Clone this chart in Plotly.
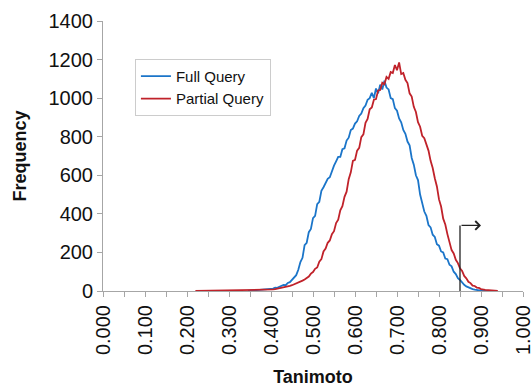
import plotly.graph_objects as go

# Tanimoto bins and frequencies
tanimoto_full = [0.345, 0.350, 0.360, 0.370, 0.380, 0.390, 0.400, 0.405, 0.410, 0.415, 0.420, 0.425,
                 0.430, 0.435, 0.440, 0.445, 0.450, 0.455, 0.460, 0.465, 0.470, 0.475, 0.480, 0.485,
                 0.490, 0.495, 0.500, 0.505, 0.510, 0.515, 0.520, 0.525, 0.530, 0.535, 0.540, 0.545,
                 0.550, 0.555, 0.560, 0.565, 0.570, 0.575, 0.580, 0.585, 0.590, 0.595, 0.600, 0.605,
                 0.610, 0.615, 0.620, 0.625, 0.630, 0.635, 0.640, 0.645, 0.650, 0.655, 0.660, 0.665,
                 0.670, 0.675, 0.680, 0.685, 0.690, 0.695, 0.700, 0.705, 0.710, 0.715, 0.720, 0.725,
                 0.730, 0.735, 0.740, 0.745, 0.750, 0.755, 0.760, 0.765, 0.770, 0.775, 0.780, 0.785,
                 0.790, 0.795, 0.800, 0.805, 0.810, 0.815, 0.820, 0.825, 0.830, 0.835, 0.840, 0.845,
                 0.850, 0.855, 0.860, 0.865, 0.870, 0.875, 0.880, 0.885, 0.890, 0.900, 0.910, 0.920]
freq_full = [1, 2, 3, 4, 6, 9, 13, 12, 17, 16, 22, 26,
             32, 30, 42, 46, 57, 66, 82, 110, 150, 172, 238, 250,
             305, 322, 378, 390, 450, 462, 520, 538, 565, 582, 590, 625,
             650, 672, 695, 695, 735, 740, 780, 795, 835, 842, 868, 880,
             908, 920, 948, 962, 992, 1000, 1028, 1000, 1050, 1025, 1070, 1045,
             1090, 1055, 1045, 1000, 995, 948, 935, 895, 875, 835, 815, 775,
             755, 690, 655, 600, 575, 500, 455, 412, 390, 342, 330, 292,
             280, 243, 235, 205, 200, 168, 165, 136, 128, 100, 88, 66,
             57, 42, 32, 24, 18, 13, 10, 7, 5, 2, 1, 0]

tanimoto_partial = [0.220, 0.250, 0.300, 0.350, 0.380, 0.400, 0.405, 0.410, 0.415, 0.420, 0.425, 0.430,
                    0.435, 0.440, 0.445, 0.450, 0.455, 0.460, 0.465, 0.470, 0.475, 0.480, 0.485, 0.490,
                    0.495, 0.500, 0.505, 0.510, 0.515, 0.520, 0.525, 0.530, 0.535, 0.540, 0.545, 0.550,
                    0.555, 0.560, 0.565, 0.570, 0.575, 0.580, 0.585, 0.590, 0.595, 0.600, 0.605, 0.610,
                    0.615, 0.620, 0.625, 0.630, 0.635, 0.640, 0.645, 0.650, 0.655, 0.660, 0.665, 0.670,
                    0.675, 0.680, 0.685, 0.690, 0.695, 0.700, 0.705, 0.710, 0.715, 0.720, 0.725, 0.730,
                    0.735, 0.740, 0.745, 0.750, 0.755, 0.760, 0.765, 0.770, 0.775, 0.780, 0.785, 0.790,
                    0.795, 0.800, 0.805, 0.810, 0.815, 0.820, 0.825, 0.830, 0.835, 0.840, 0.845, 0.850,
                    0.855, 0.860, 0.865, 0.870, 0.875, 0.880, 0.885, 0.890, 0.895, 0.900, 0.910, 0.920,
                    0.930, 0.940]
freq_partial = [0, 1, 2, 3, 4, 6, 8, 10, 12, 14, 16, 18,
                21, 24, 27, 30, 34, 38, 43, 48, 54, 60, 68, 75,
                90, 98, 115, 122, 152, 165, 205, 220, 250, 262, 295, 310,
                352, 370, 418, 440, 488, 515, 580, 615, 675, 680, 728, 742,
                798, 812, 872, 892, 942, 952, 992, 995, 1040, 1042, 1080, 1072,
                1110, 1100, 1135, 1130, 1172, 1145, 1185, 1125, 1130, 1095, 1078, 1025,
                1008, 955, 928, 875, 852, 805, 792, 755, 728, 675, 638, 585,
                542, 475, 438, 375, 345, 295, 260, 212, 195, 162, 145, 118,
                104, 78, 66, 48, 41, 28, 26, 18, 16, 10, 6, 4,
                2, 0]

x_ticks = [0.0, 0.1, 0.2, 0.3, 0.4, 0.5, 0.6, 0.7, 0.8, 0.9, 1.0]
x_tick_labels = ["0.000", "0.100", "0.200", "0.300", "0.400", "0.500",
                 "0.600", "0.700", "0.800", "0.900", "1.000"]
y_ticks = [0, 200, 400, 600, 800, 1000, 1200, 1400]

threshold = 0.85
arrow_height = 340
arrow_end = 0.90

BLUE = "#1b75c9"
RED = "#c0222a"
AXIS = "#a6a6a6"
FONT = "Liberation Sans, Arial, sans-serif"

fig = go.Figure()
fig.add_trace(go.Scatter(x=tanimoto_full, y=freq_full, mode="lines", name="Full Query",
                         line=dict(color=BLUE, width=1.8)))
fig.add_trace(go.Scatter(x=tanimoto_partial, y=freq_partial, mode="lines", name="Partial Query",
                         line=dict(color=RED, width=1.8)))

fig.add_shape(type="line", x0=threshold, x1=threshold, y0=0, y1=arrow_height,
              xref="x", yref="y", line=dict(color="#222222", width=1.3))
fig.add_annotation(x=arrow_end, y=arrow_height, ax=threshold, ay=arrow_height,
                   xref="x", yref="y", axref="x", ayref="y", text="",
                   showarrow=True, arrowhead=4, arrowsize=1.3, arrowwidth=1.3,
                   arrowcolor="#222222", standoff=0)

fig.update_layout(
    width=532, height=387,
    margin=dict(l=103, r=9, t=21, b=96, autoexpand=False),
    paper_bgcolor="white", plot_bgcolor="white",
    font=dict(family=FONT, size=20, color="#111111"),
    showlegend=True,
    legend=dict(x=0.076, y=0.86, xanchor="left", yanchor="top",
                bordercolor="#cccccc", borderwidth=1, bgcolor="white",
                font=dict(size=15, family=FONT), tracegroupgap=0,
                itemwidth=30),
    xaxis=dict(range=[0, 1], tickmode="array", tickvals=x_ticks, ticktext=x_tick_labels,
               tickangle=-90, showgrid=False, zeroline=False, showline=True,
               linecolor=AXIS, linewidth=1, ticks="outside", ticklen=5, tickcolor=AXIS,
               minor=dict(dtick=0.05, ticks="outside", ticklen=5, tickcolor=AXIS),
               automargin=False, ticklabeloverflow="allow",
               title=dict(text="<b>Tanimoto</b>", font=dict(size=18, family=FONT), standoff=16),
               tickfont=dict(size=20, family=FONT)),
    yaxis=dict(range=[0, 1400], tickmode="array", tickvals=y_ticks, showgrid=False,
               zeroline=False, showline=True, linecolor=AXIS, linewidth=1,
               ticks="outside", ticklen=5, tickcolor=AXIS, automargin=False,
               title=dict(text="<b>Frequency</b>", font=dict(size=18, family=FONT), standoff=17),
               tickfont=dict(size=20, family=FONT)),
)

fig.write_html("out.html", config={"displayModeBar": False},
               post_script="document.body.style.margin='0';")
